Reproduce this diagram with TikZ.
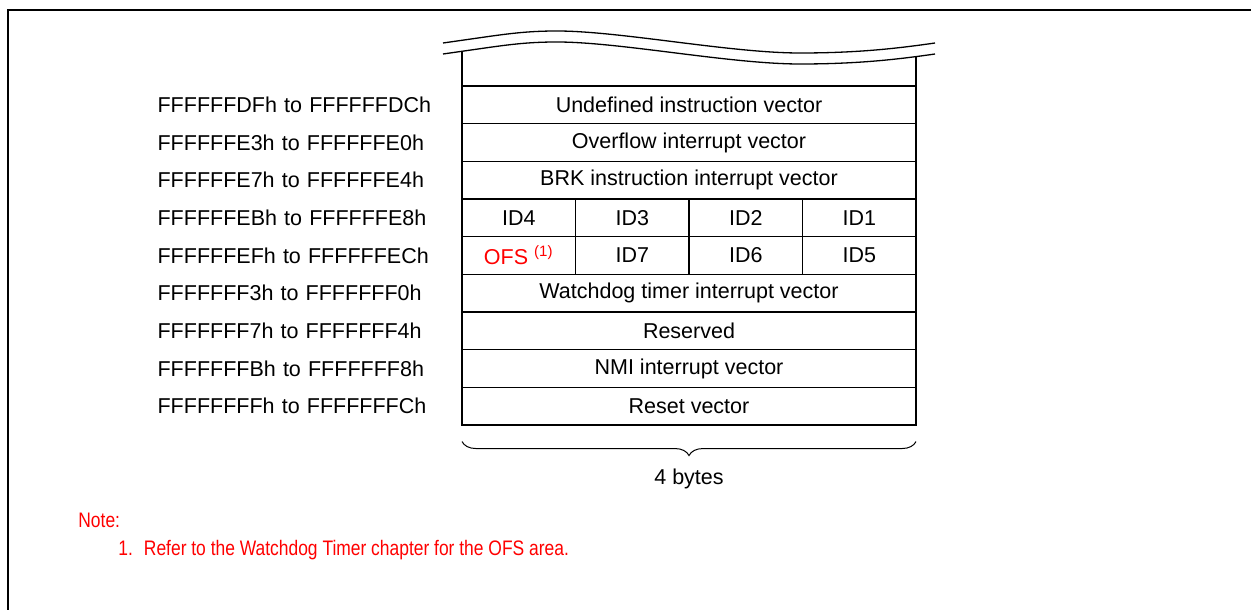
\documentclass[tikz,border=0pt]{standalone}
\usepackage{fontspec}
\setmainfont{Liberation Sans}
\newfontfamily\narrowfont[FakeStretch=0.83]{Liberation Sans}
\usepackage{tikz}
\usetikzlibrary{positioning}
\usetikzlibrary{decorations.pathreplacing}

\begin{document}
\begin{tikzpicture}[x=0.5pt, y=-0.5pt,
    every node/.style={font=\fontsize{10.75pt}{13pt}\selectfont},
    rowbox/.style={draw, line width=0.65pt, minimum width=227pt, minimum height=18.83pt,
    inner sep=0pt, outer sep=0pt, anchor=north},
    cellbox/.style={draw, line width=0.65pt, minimum width=56.75pt, minimum height=18.83pt,
    inner sep=0pt, outer sep=0pt},
    addr/.style={inner sep=0pt, anchor=east, text width=137.5pt, align=left},
    notetext/.style={text=red, inner sep=0pt, anchor=base west,
    font=\narrowfont\fontsize{10.5pt}{12pt}\selectfont}]
    \useasboundingbox (0,0) rectangle (1251,610);

    % frame
    \draw[line width=1.2pt] (1251,10) -- (8,10) -- (8,610);

    % vector table
    \node (undef) [rowbox] at (689,86) {Undefined instruction vector};
    \node (ovf) [rowbox, below=0pt of undef] {Overflow interrupt vector};
    \node (brk) [rowbox, below=0pt of ovf] {BRK instruction interrupt vector};

    \node (id4) [cellbox, below right=0pt and 0pt of brk.south west] {ID4};
    \node (id3) [cellbox, right=0pt of id4] {ID3};
    \node (id2) [cellbox, right=0pt of id3] {ID2};
    \node (id1) [cellbox, right=0pt of id2] {ID1};
    \node (ofs) [cellbox, below=0pt of id4] {\textcolor{red}{OFS \textsuperscript{(1)}}};
    \node (id7) [cellbox, right=0pt of ofs] {ID7};
    \node (id6) [cellbox, right=0pt of id7] {ID6};
    \node (id5) [cellbox, right=0pt of id6] {ID5};

    \node (wdt) [rowbox, below right=0pt and 0pt of ofs.south west, anchor=north west] {Watchdog timer interrupt vector};
    \node (rsv) [rowbox, below=0pt of wdt] {Reserved};
    \node (nmi) [rowbox, below=0pt of rsv] {NMI interrupt vector};
    \node (rst) [rowbox, below=0pt of nmi] {Reset vector};

    % addresses
    \node (a1) [addr, left=14.5pt of undef] {FFFFFFDFh to FFFFFFDCh};
    \node (a2) [addr, left=14.5pt of ovf] {FFFFFFE3h to FFFFFFE0h};
    \node (a3) [addr, left=14.5pt of brk] {FFFFFFE7h to FFFFFFE4h};
    \node (a4) [addr, left=14.5pt of id4] {FFFFFFEBh to FFFFFFE8h};
    \node (a5) [addr, left=14.5pt of ofs] {FFFFFFEFh to FFFFFFECh};
    \node (a6) [addr, left=14.5pt of wdt] {FFFFFFF3h to FFFFFFF0h};
    \node (a7) [addr, left=14.5pt of rsv] {FFFFFFF7h to FFFFFFF4h};
    \node (a8) [addr, left=14.5pt of nmi] {FFFFFFFBh to FFFFFFF8h};
    \node (a9) [addr, left=14.5pt of rst] {FFFFFFFFh to FFFFFFFCh};

    % break lines on top
    \foreach \d in {0,11}
        \draw[line width=0.65pt] (443,43+\d) .. controls (500,35+\d) and (520,31+\d) .. (557,31+\d)
            .. controls (620,31+\d) and (730,53+\d) .. (800,53+\d)
            .. controls (860,53+\d) and (900,48+\d) .. (935,43+\d);
    \coordinate (wl) at (462,52);
    \coordinate (wr) at (916,57);
    \draw[line width=0.65pt] (undef.north west) -- (wl);
    \draw[line width=0.65pt] (undef.north east) -- (wr);

    % width brace
    \draw[line width=0.5pt, decorate, decoration={brace, mirror, amplitude=7pt}]
        ([yshift=-8.3pt]rst.south west) -- ([yshift=-8.3pt]rst.south east);
    \node (bytes) at ([yshift=-27pt]rst.south) {4 bytes};

    % note
    \node (note) [notetext] at (78,527) {Note:};
    \node (note1) [notetext] at (118,555) {1.\hspace{5.5pt}Refer to the Watchdog Timer chapter for the OFS area.};
\end{tikzpicture}
\end{document}
